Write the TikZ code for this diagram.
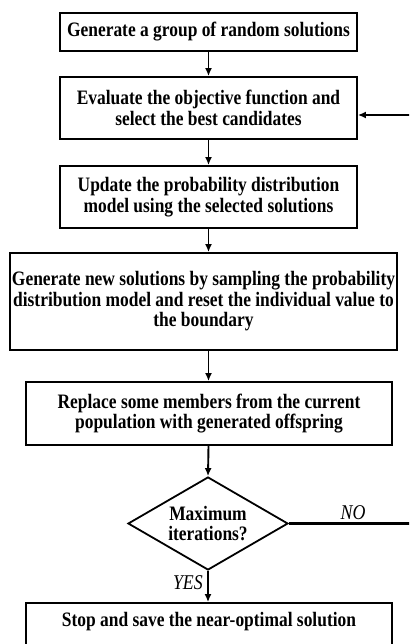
\documentclass[tikz,border=0pt]{standalone}
\usepackage{fontspec}
\setmainfont{Liberation Serif}[FakeStretch=0.85]
\usetikzlibrary{shapes.geometric,arrows.meta}
\tikzset{
  boxtext/.style={font=\fontsize{20.5}{20.5}\selectfont\bfseries},
  stepbox/.style={draw, line width=1.8pt, align=center, inner sep=0pt, boxtext},
  decision/.style={diamond, draw, line width=1.8pt, align=center, inner sep=0pt,
    aspect=1.72, minimum width=160pt, minimum height=93pt, boxtext},
  tip/.style={-{Latex[length=8pt,width=7pt]}},
  flow/.style={line width=1.9pt, tip},
  loopline/.style={line width=2.5pt, tip},
  answer/.style={font=\fontsize{21}{21}\selectfont\itshape, inner sep=0pt}
}
\begin{document}
\begin{tikzpicture}[x=1pt,y=-1pt]
\useasboundingbox (0,0) rectangle (409,644);
\clip (0,0) rectangle (409,644);

% process steps
\node[stepbox, minimum width=297pt, minimum height=38pt] (init) at (208.5,32)
  {Generate a group of random solutions};
\node[stepbox, minimum width=297pt, minimum height=62pt] (eval) at (208.5,108)
  {Evaluate the objective function and\\select the best candidates};
\node[stepbox, minimum width=297pt, minimum height=62pt] (update) at (208.5,197)
  {Update the probability distribution\\model using the selected solutions};
\node[stepbox, minimum width=387pt, minimum height=97pt] (sample) at (203.5,301.5)
  {Generate new solutions by sampling the probability\\distribution model and reset the individual value to\\the boundary};
\node[stepbox, minimum width=366pt, minimum height=63pt] (replace) at (209,413.5)
  {Replace some members from the current\\population with generated offspring};
\node[decision] (check) at (208,523.5) {Maximum\\iterations?};
\node[stepbox, minimum width=366pt, minimum height=46pt, text height=8pt, text depth=8pt]
  (stop) at (209,626) {Stop and save the near-optimal solution};

% main flow
\draw[flow] (init.south) -- (eval.north);
\draw[flow] (eval.south) -- (update.north);
\draw[flow] (update.south) -- (update.south |- sample.north);
\draw[flow] (update.south |- sample.south) -- (update.south |- replace.north);
\draw[flow] (update.south |- replace.south) -- (check.north);
\draw[flow] (check.south) -- (check.south |- stop.north);

% loop back when the iteration limit is not reached
\coordinate (loopturn) at (416,115);
\draw[loopline] (check.east) -| (loopturn) -- (loopturn -| eval.east);

% branch labels
\node[answer, anchor=base] (no) at (353,519) {NO};
\node[answer, anchor=base east] (yes) at (203,589) {YES};
\end{tikzpicture}
\end{document}
